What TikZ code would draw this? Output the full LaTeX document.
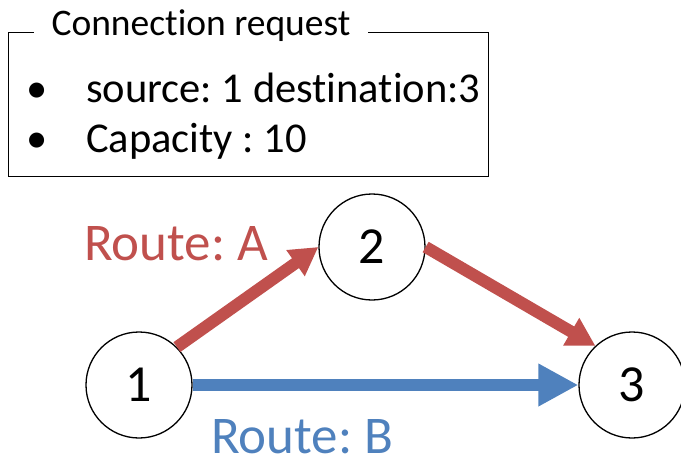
\documentclass[tikz,border=0pt]{standalone}
\usepackage{fontspec}
\setmainfont{Carlito}[RawFeature=-liga]
\usetikzlibrary{arrows.meta}
\definecolor{routeA}{RGB}{192,80,77}
\definecolor{routeB}{RGB}{79,129,189}
\frenchspacing
\begin{document}
\begin{tikzpicture}[x=1pt, y=-1pt,
  router/.style={draw, circle, line width=1.3pt, minimum size=106pt, inner sep=0pt, font=\fontsize{52}{52}\selectfont},
  item/.style={anchor=base west, inner sep=0pt, font=\fontsize{42.5}{42.5}\selectfont},
  routeline/.style={line width=12pt}]
\useasboundingbox (0,0) rectangle (681,458);
% request box
\node[draw, line width=1pt, minimum width=480pt, minimum height=144pt, inner sep=0pt] (req) at (248,104) {};
\node[fill=white, inner xsep=18pt, inner ysep=2pt, anchor=base, font=\fontsize{37.5}{37.5}\selectfont] (title) at (201,35) {Connection request};
\node[item] (b1) at (26,102) {•};
\node[item] (l1) at (86,102) {source: 1 destination:3};
\node[item] (b2) at (26,152) {•};
\node[item] (l2) at (86,152) {Capacity : 10};
% network
\node[router] (n1) at (139,385) {1};
\node[router] (n2) at (372,247) {2};
\node[router] (n3) at (632,385) {3};
\draw[routeline, routeA, -{Triangle[length=28pt, width=30pt]}] (n1.45) -- (n2.180);
\draw[routeline, routeA, -{Triangle[length=28pt, width=30pt]}] (n2.0) -- (n3.133);
\draw[routeline, routeB, -{Triangle[length=40pt, width=40pt]}] (n1.0) -- (n3.180);
\node[routeA, anchor=base west, inner sep=0pt, font=\fontsize{53}{53}\selectfont] (la) at (84,260) {Route: A};
\node[routeB, anchor=base west, inner sep=0pt, font=\fontsize{53}{53}\selectfont] (lb) at (211,453) {Route: B};
\end{tikzpicture}
\end{document}
